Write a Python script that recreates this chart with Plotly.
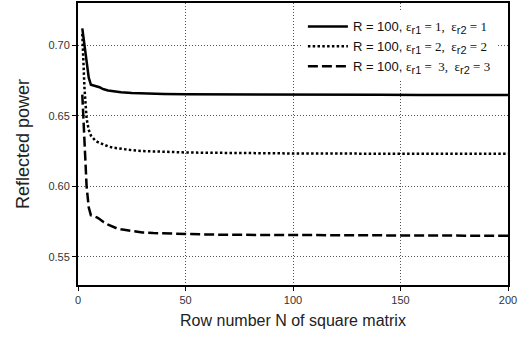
import plotly.graph_objects as go

N = [2, 3, 4, 5, 6, 7, 8, 9, 10, 11, 12, 14, 16, 18, 20, 25, 30, 35, 40, 50,
     60, 70, 80, 100, 120, 140, 160, 180, 200]

p_eps1 = [0.712, 0.700, 0.688, 0.677, 0.672, 0.6717, 0.6714, 0.6710, 0.6703, 0.6695,
          0.6688, 0.6680, 0.6674, 0.6670, 0.6667, 0.6662, 0.6659, 0.6657, 0.6655, 0.6653,
          0.6652, 0.6651, 0.6650, 0.6650, 0.6649, 0.6649, 0.6648, 0.6648, 0.6648]

p_eps2 = [0.708, 0.670, 0.648, 0.640, 0.636, 0.634, 0.6325, 0.6315, 0.6308, 0.6300,
          0.6294, 0.6283, 0.6275, 0.6270, 0.6265, 0.6256, 0.6250, 0.6247, 0.6244, 0.6240,
          0.6238, 0.6236, 0.6235, 0.6233, 0.6232, 0.6231, 0.6231, 0.6230, 0.6230]

p_eps3 = [0.665, 0.630, 0.600, 0.585, 0.5795, 0.5790, 0.5785, 0.5778, 0.5768, 0.5755,
          0.5745, 0.5728, 0.5713, 0.5702, 0.5695, 0.5682, 0.5673, 0.5668, 0.5665, 0.5660,
          0.5658, 0.5656, 0.5655, 0.5653, 0.5652, 0.5651, 0.5651, 0.5650, 0.5650]

x_ticks = [0, 50, 100, 150, 200]
y_ticks = [0.55, 0.60, 0.65, 0.70]
y_labels = ["0.55", "0.60", "0.65", "0.70"]

SERIF = "'Times New Roman', 'Liberation Serif', serif"
SANS = "'Liberation Sans', Arial, sans-serif"
NB = "\u00a0"


def sub(t):
    return "<sub><span style=\"font-family:" + SANS + ";font-size:11px\">" + t + "</span></sub>"


def label(e1, e2, extra=""):
    return ("R = 100, <span style=\"font-family:" + SERIF + "\">ε" + sub("r1") + " = " + extra + e1
            + "," + NB + NB + "ε" + sub("r2") + " = " + e2 + "</span>")


series = [
    (p_eps1, label("1", "1"), "solid"),
    (p_eps2, label("2", "2"), "2.5px,2.3px"),
    (p_eps3, label("3", "3", NB), "10px,4px"),
]

fig = go.Figure()
for ys, name, dash in series:
    fig.add_trace(go.Scatter(x=N, y=ys, mode="lines", name=name,
                             line=dict(color="black", width=2.5, dash=dash)))

axis_common = dict(
    showline=True, mirror=True, linecolor="black", linewidth=2,
    showgrid=True, gridcolor="#555555", gridwidth=1, griddash="1px,2px",
    ticks="outside", ticklen=4, tickcolor="black", tickwidth=1,
    zeroline=False,
    tickfont=dict(family="Liberation Sans, Arial", size=11, color="#333333"),
)

fig.update_xaxes(range=[0, 200], tickvals=x_ticks,
                 title=dict(text="Row number N of square matrix",
                            font=dict(family="Liberation Sans, Arial", size=16, color="#222222"),
                            standoff=10),
                 **axis_common)
fig.update_yaxes(range=[0.53, 0.73], tickvals=y_ticks, ticktext=y_labels,
                 title=dict(text="Reflected power",
                            font=dict(family="Liberation Sans, Arial", size=18, color="#222222"),
                            standoff=14),
                 **axis_common)

fig.update_layout(
    template="none",
    width=528, height=338,
    margin=dict(l=78, r=20, t=3, b=53),
    plot_bgcolor="white", paper_bgcolor="white",
    showlegend=True,
    legend=dict(x=0.523, y=0.97, xanchor="left", yanchor="top",
                bgcolor="white", borderwidth=0,
                font=dict(family="Liberation Sans, Arial", size=13, color="#111111"),
                itemwidth=40, tracegroupgap=0),
)

fig.write_html("out.html", config={"displayModeBar": False},
               post_script="document.body.style.margin='0';document.body.style.padding='0';")
